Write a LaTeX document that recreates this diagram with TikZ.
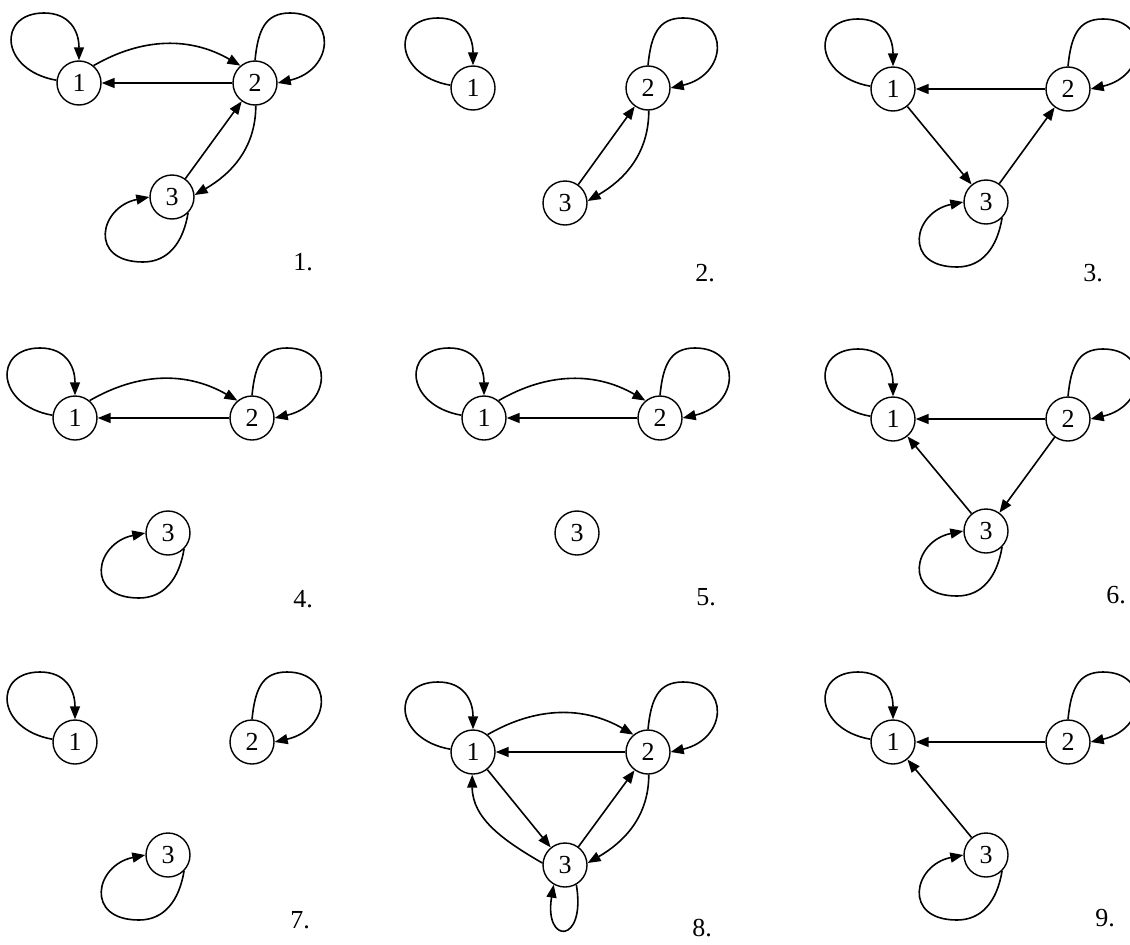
\documentclass[tikz,border=0pt]{standalone}
\usepackage{fontspec}
\setmainfont{Liberation Serif}
\usetikzlibrary{arrows.meta}
\tikzset{
  st/.style={circle, draw, line width=1.4pt, minimum size=44pt, inner sep=0pt, font=\fontsize{26}{26}\selectfont},
  arr/.style={line width=1.6pt, -{Triangle[length=13pt,width=10pt]}},
  lab/.style={font=\fontsize{26}{26}\selectfont}
}
\newcommand\myloopL[1]{\draw[arr] (#1.173) .. controls +(-57pt,10pt) and +(-47pt,0pt) .. ([shift={(-35pt,70pt)}]#1.center) .. controls +(25pt,0pt) and +(0pt,30pt) .. (#1.90);}
\newcommand\myloopR[1]{\draw[arr] (#1.90) .. controls +(3pt,30pt) and +(-25pt,0pt) .. ([shift={(35pt,70pt)}]#1.center) .. controls +(47pt,0pt) and +(57pt,13pt) .. (#1.0);}
\newcommand\myloopB[1]{\draw[arr] (#1.-45) .. controls +(-5pt,-30pt) and +(25pt,0pt) .. ([shift={(-29pt,-65pt)}]#1.center) .. controls +(-55pt,0pt) and +(-50pt,-10pt) .. (#1.180);}
\newcommand\myloopD[1]{\draw[arr] (#1.-60) .. controls +(10pt,-60pt) and +(-10pt,-60pt) .. (#1.-120);}
\begin{document}
\begin{tikzpicture}[x=1pt,y=1pt]
\useasboundingbox (0,0) rectangle (1130,-945);
\clip (0,0) rectangle (1130,-945);
% Panel 1
\node[st] (a1) at (79,-83) {1};
\node[st] (a2) at (255,-83) {2};
\node[st] (a3) at (172,-197) {3};
\node[lab] (la) at (303,-262) {1.};
\myloopL{a1} \myloopR{a2} \myloopB{a3}
\draw[arr] (a1.50) to[out=30,in=150] (a2.130);
\draw[arr] (a2) -- (a1);
\draw[arr] (a3) -- (a2);
\draw[arr] (a2.-88) to[out=-90,in=30] (a3.5);
% Panel 2
\node[st] (b1) at (473,-88) {1};
\node[st] (b2) at (648,-88) {2};
\node[st] (b3) at (565,-203) {3};
\node[lab] (lb) at (705,-273) {2.};
\myloopL{b1} \myloopR{b2}
\draw[arr] (b3) -- (b2);
\draw[arr] (b2.-88) to[out=-90,in=30] (b3.5);
% Panel 3
\node[st] (c1) at (893,-89) {1};
\node[st] (c2) at (1068,-89) {2};
\node[st] (c3) at (986,-202) {3};
\node[lab] (lc) at (1093,-273) {3.};
\myloopL{c1} \myloopR{c2} \myloopB{c3}
\draw[arr] (c2) -- (c1);
\draw[arr] (c1) -- (c3);
\draw[arr] (c3) -- (c2);
% Panel 4
\node[st] (d1) at (75,-418) {1};
\node[st] (d2) at (252,-418) {2};
\node[st] (d3) at (168,-533) {3};
\node[lab] (ld) at (303,-599) {4.};
\myloopL{d1} \myloopR{d2} \myloopB{d3}
\draw[arr] (d1.50) to[out=30,in=150] (d2.130);
\draw[arr] (d2) -- (d1);
% Panel 5
\node[st] (e1) at (484,-418) {1};
\node[st] (e2) at (660,-418) {2};
\node[st] (e3) at (577,-533) {3};
\node[lab] (le) at (706,-597) {5.};
\myloopL{e1} \myloopR{e2}
\draw[arr] (e1.50) to[out=30,in=150] (e2.130);
\draw[arr] (e2) -- (e1);
% Panel 6
\node[st] (f1) at (893,-419) {1};
\node[st] (f2) at (1068,-419) {2};
\node[st] (f3) at (986,-531) {3};
\node[lab] (lf) at (1116,-595) {6.};
\myloopL{f1} \myloopR{f2} \myloopB{f3}
\draw[arr] (f2) -- (f1);
\draw[arr] (f2) -- (f3);
\draw[arr] (f3) -- (f1);
% Panel 7
\node[st] (g1) at (75,-742) {1};
\node[st] (g2) at (252,-742) {2};
\node[st] (g3) at (168,-855) {3};
\node[lab] (lg) at (300,-920) {7.};
\myloopL{g1} \myloopR{g2} \myloopB{g3}
% Panel 8
\node[st] (h1) at (473,-752) {1};
\node[st] (h2) at (648,-752) {2};
\node[st] (h3) at (565,-865) {3};
\node[lab] (lh) at (702,-928) {8.};
\myloopL{h1} \myloopR{h2} \myloopD{h3}
\draw[arr] (h1.50) to[out=30,in=150] (h2.130);
\draw[arr] (h2) -- (h1);
\draw[arr] (h1) -- (h3);
\draw[arr] (h3) -- (h2);
\draw[arr] (h2.-88) to[out=-90,in=30] (h3.5);
\draw[arr] (h3.175) to[out=150,in=-90] (h1.-92);
% Panel 9
\node[st] (i1) at (893,-742) {1};
\node[st] (i2) at (1068,-742) {2};
\node[st] (i3) at (986,-855) {3};
\node[lab] (li) at (1105,-918) {9.};
\myloopL{i1} \myloopR{i2} \myloopB{i3}
\draw[arr] (i2) -- (i1);
\draw[arr] (i3) -- (i1);
\end{tikzpicture}
\end{document}
